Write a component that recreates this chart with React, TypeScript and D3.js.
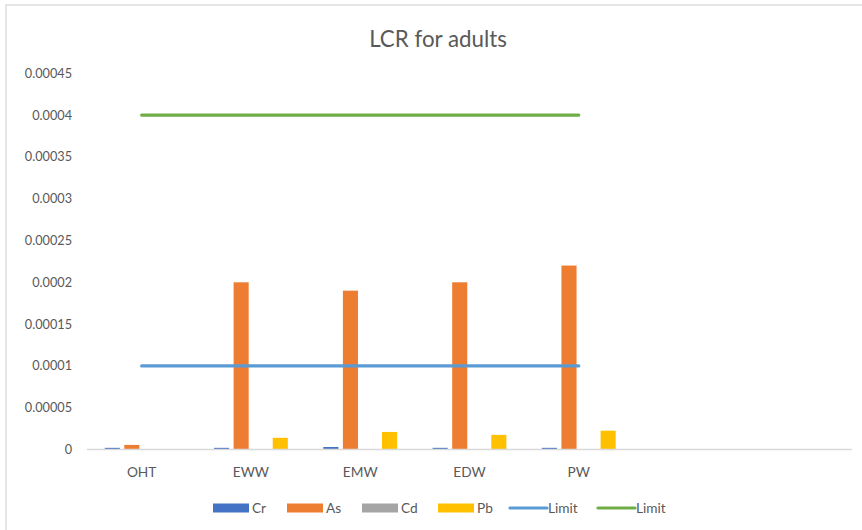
import React from "react";
import * as d3 from "d3";

const categories = ["OHT", "EWW", "EMW", "EDW", "PW", " ", "  "];
const seriesNames = ["Cr", "As", "Cd", "Pb"];
const crValues = [0.000002, 0.000002, 0.000003, 0.000002, 0.000002];
const asValues = [0.0000055, 0.0002, 0.00019, 0.0002, 0.00022];
const cdValues = [0.0000001, 0.0000001, 0.0000001, 0.0000001, 0.0000001];
const pbValues = [0.0000005, 0.000014, 0.000021, 0.0000175, 0.0000225];
const limitLow = [0.0001, 0.0001, 0.0001, 0.0001, 0.0001];
const limitHigh = [0.0004, 0.0004, 0.0004, 0.0004, 0.0004];
const yTicks = [0, 0.00005, 0.0001, 0.00015, 0.0002, 0.00025, 0.0003, 0.00035, 0.0004, 0.00045];
const yTickLabels = ["0", "0.00005", "0.0001", "0.00015", "0.0002", "0.00025", "0.0003", "0.00035", "0.0004", "0.00045"];

const barColors = ["#4472C4", "#ED7D31", "#A5A5A5", "#FFC000"];
const limitColors = ["#5B9BD5", "#70AD47"];
const textColor = "#595959";
const font = "Lato, 'Open Sans', sans-serif";

export default function App() {
  const W = 862, H = 530;
  const x0 = d3.scaleBand<string>().domain(categories).range([87, 852]).paddingInner(0).paddingOuter(0);
  const y = d3.scaleLinear().domain([0, 0.00045]).range([449.5, 73.3]);
  const bw = x0.bandwidth();
  const barW = bw * 0.138;
  const pitch = bw * 0.179;
  const barSeries = [crValues, asValues, cdValues, pbValues];
  const lineGen = d3.line<number>()
    .x((_, i) => (x0(categories[i]) as number) + bw / 2)
    .y((d) => y(d));

  const legendItems = [
    { type: "bar", label: seriesNames[0], color: barColors[0], x: 213 },
    { type: "bar", label: seriesNames[1], color: barColors[1], x: 287 },
    { type: "bar", label: seriesNames[2], color: barColors[2], x: 362 },
    { type: "bar", label: seriesNames[3], color: barColors[3], x: 438 },
    { type: "line", label: "Limit", color: limitColors[0], x: 510 },
    { type: "line", label: "Limit", color: limitColors[1], x: 598 },
  ];

  return (
    <svg width={W} height={H} style={{ position: "absolute", left: 0, top: 0, background: "#fff" }}>
      <rect x={6} y={5} width={W + 10} height={H + 10} fill="#fff" stroke="#D9D9D9" strokeWidth={1.3} />
      <text x={438} y={46.5} textAnchor="middle" fontFamily={font} fontSize={22.3} fill={textColor}>LCR for adults</text>
      {yTicks.map((t, i) => (
        <text key={i} x={72} y={y(t) + 4.5} textAnchor="end" fontFamily={font} fontSize={12.7} fill={textColor}>{yTickLabels[i]}</text>
      ))}
      {barSeries.map((vals, s) =>
        vals.map((v, i) => {
          const cx = (x0(categories[i]) as number) + bw / 2;
          const bx = cx - (1.5 * pitch) + s * pitch - barW / 2;
          return <rect key={`${s}-${i}`} x={bx} y={y(v)} width={barW} height={y(0) - y(v)} fill={barColors[s]} />;
        })
      )}
      <line x1={87} x2={852} y1={y(0)} y2={y(0)} stroke="#D9D9D9" strokeWidth={1.3} />
      {[limitLow, limitHigh].map((vals, k) => (
        <path key={k} d={lineGen(vals) || ""} fill="none" stroke={limitColors[k]} strokeWidth={3.2} strokeLinecap="round" />
      ))}
      {categories.map((c, i) => (
        <text key={i} x={(x0(c) as number) + bw / 2} y={476.5} textAnchor="middle" fontFamily={font} fontSize={13.7} fill={textColor}>{c.trim()}</text>
      ))}
      {legendItems.map((it, i) => (
        <g key={i}>
          {it.type === "bar" ? (
            <rect x={it.x} y={503.5} width={36} height={9} fill={it.color} />
          ) : (
            <line x1={it.x} x2={it.x + 37} y1={508} y2={508} stroke={it.color} strokeWidth={3.2} strokeLinecap="round" />
          )}
          <text x={it.x + (it.type === "bar" ? 39 : 38)} y={513} fontFamily={font} fontSize={13.7} fill={textColor}>{it.label}</text>
        </g>
      ))}
    </svg>
  );
}
